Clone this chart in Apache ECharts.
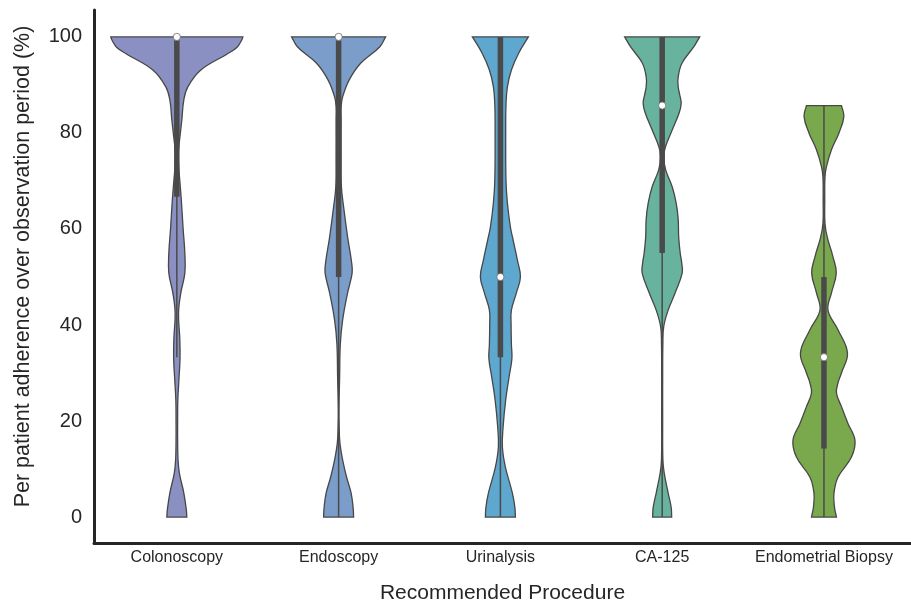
<!DOCTYPE html>
<html><head><meta charset="utf-8">
<script src="https://cdn.jsdelivr.net/npm/echarts@6/dist/echarts.min.js"></script>
<style>html,body{margin:0;padding:0;background:#fff}#c{width:911px;height:602px}</style>
</head><body><div id="c"></div>
<script>
// ---- Data ----
const categories = ['Colonoscopy', 'Endoscopy', 'Urinalysis', 'CA-125', 'Endometrial Biopsy'];
const yTicks = [0, 20, 40, 60, 80, 100];

// Kernel density profiles: [adherence value (%), relative density]
const kdeColonoscopy = [[0,10],[1.5,9.5],[5,7],[9.2,2.5],[12,1.2],[16,0.8],[20,0.8],[24.4,1],[29,2.2],[33,3.2],[37,3],[42.5,1.7],[46.7,4],[50.8,8],[55,8],[60,6.3],[66,4.5],[70,3],[73,1.8],[75.8,1.5],[79,3],[82.7,5],[86.9,7],[89.6,11],[93.1,24],[96.4,50],[97.8,60],[99.4,65],[100,66]];
const kdeEndoscopy = [[0,15],[2,14.5],[5,12.5],[8.3,8],[11.9,4],[15.4,1.3],[19,0.5],[22.3,0.3],[29,1],[36,1.7],[41,4],[46.7,9],[50.8,13.5],[53,13],[58.3,9],[64.6,5],[68.8,2.8],[75,2.5],[82.7,2.5],[85.4,2.5],[87.5,4],[91,10.5],[94.5,22],[97.9,41],[100,47]];
const kdeUrinalysis = [[0,15],[2,14.5],[5,12],[10.4,5],[14.6,2],[18.75,2.7],[24.4,5.3],[29.2,8.7],[33,11.5],[36,11],[40,10.7],[43.1,11],[46.7,16],[50,20],[53.5,17],[57.7,12.7],[60.4,10],[65.4,7],[70,5.6],[80,5.3],[86,5.6],[89.6,7],[93.1,11],[96.7,18.5],[100,28]];
const kdeCA125 = [[0,9.5],[2,9],[5,6],[9.2,2],[12,0.7],[20,0.5],[30,0.5],[36,0.7],[39.6,1.5],[43.1,6],[46.7,13],[50.8,20],[53,19.5],[55,18],[58.3,16.5],[62,16],[65.4,14],[68.8,10],[72.3,3.5],[75,1.5],[77.1,3.3],[80.6,10],[84.2,17],[86.2,19],[88,17.5],[89.6,16],[91.7,16],[94.6,20],[97.9,31.5],[100,37.5]];
const kdeEndometrial = [[0,12.5],[2.1,10.5],[5,10],[8.3,14],[12.5,27.5],[16,31],[19.5,24],[23,17.5],[25.8,12.5],[27.9,14],[30,17.5],[34.2,23.5],[39,14],[43.1,4],[46.7,7.5],[50.8,12.3],[54.2,9],[58.3,3.3],[61.2,1],[66,0.8],[70.8,1],[73,2.5],[76.5,7.5],[80,15],[83.4,19.9],[85.7,17.5]];

// Box statistics
const q1Values = [66.7, 50, 33.3, 55, 14.3];
const medianValues = [100, 100, 50, 85.7, 33.3];
const q3Values = [100, 100, 100, 100, 50];
const whiskerLow = [33.3, 0, 0, 0, 0];
const whiskerHigh = [100, 100, 100, 100, 85.7];

const fillColors = ['#8a90c2', '#7b9dc9', '#5ea8cf', '#67b39d', '#7aa84c'];

// ---- Rendering ----
const profiles = [kdeColonoscopy, kdeEndoscopy, kdeUrinalysis, kdeCA125, kdeEndometrial];
const DENSITY_PER_BAND = 161.75; // density units per category band
const FONT = "'Liberation Sans', Arial, sans-serif";
const TEXT = '#262626';
const EDGE = '#474747';

function renderItem(params, api) {
  const i = params.dataIndex;
  const prof = profiles[i];
  const band = api.size([1, 0])[0];
  const k = band / DENSITY_PER_BAND;
  const cx = api.coord([i, 0])[0];
  const left = prof.map(([v, d]) => [cx - d * k, api.coord([i, v])[1]]);
  const right = prof.map(([v, d]) => [cx + d * k, api.coord([i, v])[1]]).reverse();
  const pts = [left[0]].concat(left, [left[left.length - 1], right[0]], right, [right[right.length - 1]]);
  const yWl = api.coord([i, whiskerLow[i]])[1];
  const yWh = api.coord([i, whiskerHigh[i]])[1];
  const yQ1 = api.coord([i, q1Values[i]])[1];
  const yQ3 = api.coord([i, q3Values[i]])[1];
  const yMed = api.coord([i, medianValues[i]])[1];
  return {
    type: 'group',
    children: [
      { type: 'polygon', shape: { points: pts, smooth: 0.4 },
        style: { fill: fillColors[i], stroke: EDGE, lineWidth: 1.3 } },
      { type: 'line', shape: { x1: cx, y1: yWl, x2: cx, y2: yWh },
        style: { stroke: '#4a4a4a', lineWidth: 1.5 } },
      { type: 'line', shape: { x1: cx, y1: yQ1, x2: cx, y2: yQ3 },
        style: { stroke: '#4a4a4a', lineWidth: 5.5, lineCap: 'butt' } },
      { type: 'circle', shape: { cx: cx, cy: yMed, r: 3.6 },
        style: { fill: '#ffffff', stroke: '#6a6a6a', lineWidth: 0.8 } }
    ]
  };
}

const chart = echarts.init(document.getElementById('c'), null, { renderer: 'canvas' });
chart.setOption({
  animation: false,
  backgroundColor: '#ffffff',
  grid: { left: 94, right: 0, top: 10, bottom: 59, outerBoundsMode: 'none', containLabel: false },
  xAxis: {
    type: 'value', min: -0.512, max: 4.538,
    splitLine: { show: false },
    axisLine: { show: true, onZero: false, lineStyle: { color: TEXT, width: 3 } },
    axisTick: { show: false },
    axisLabel: { customValues: categories.map((c, i) => i), formatter: v => categories[Math.round(v)],
      fontSize: 16, color: TEXT, fontFamily: FONT, margin: 7 },
    name: 'Recommended Procedure', nameLocation: 'middle', nameGap: 40,
    nameTextStyle: { fontSize: 21, color: TEXT, fontFamily: FONT }
  },
  yAxis: {
    type: 'value', min: -5.4, max: 105.6,
    splitLine: { show: false },
    axisLine: { show: true, onZero: false, lineStyle: { color: TEXT, width: 3 } },
    axisTick: { show: false },
    axisLabel: { customValues: yTicks, fontSize: 20, color: TEXT, fontFamily: FONT, margin: 12 },
    name: 'Per patient adherence over observation period (%)', nameLocation: 'middle', nameGap: 60,
    nameTextStyle: { fontSize: 21.5, color: TEXT, fontFamily: FONT, padding: [0, 0, 0, 20] }
  },
  series: [{
    type: 'custom', renderItem: renderItem, clip: false,
    encode: { x: 0, y: 1 },
    data: categories.map((c, i) => [i, medianValues[i]])
  }]
});
</script></body></html>
